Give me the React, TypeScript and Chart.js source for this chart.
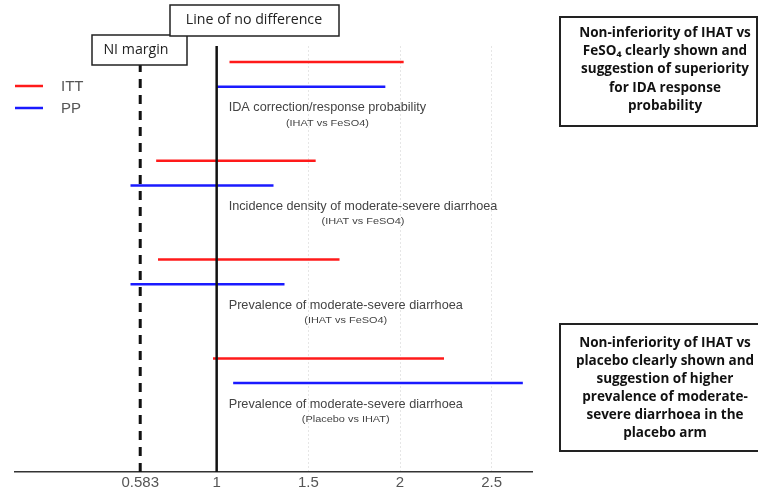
import React, { useEffect, useRef } from "react";
import { Chart, registerables } from "chart.js";

Chart.register(...registerables);

// ---- data ----
const outcomes = [
  "IDA correction/response probability",
  "Incidence density of moderate-severe diarrhoea",
  "Prevalence of moderate-severe diarrhoea",
  "Prevalence of moderate-severe diarrhoea",
];
const comparisons = ["(IHAT vs FeSO4)", "(IHAT vs FeSO4)", "(IHAT vs FeSO4)", "(Placebo vs IHAT)"];
const ittLower = [1.07, 0.67, 0.68, 0.98];
const ittUpper = [2.02, 1.54, 1.67, 2.24];
const ppLower = [1.0, 0.53, 0.53, 1.09];
const ppUpper = [1.92, 1.31, 1.37, 2.67];
const xTicks = [0.583, 1, 1.5, 2, 2.5];
const gridTicks = [1.5, 2, 2.5];
const niMargin = 0.583;
const noDifference = 1;
const seriesNames = ["ITT", "PP"];
const seriesColors = ["#ff1a1a", "#1a1aff"];
const niLabel = "NI margin";
const noDiffLabel = "Line of no difference";
const note1 = [
  "Non-inferiority of IHAT vs",
  "FeSO\u2084 clearly shown and",
  "suggestion of superiority",
  "for IDA response",
  "probability",
];
const note2 = [
  "Non-inferiority of IHAT vs",
  "placebo clearly shown and",
  "suggestion of higher",
  "prevalence of moderate-",
  "severe diarrhoea in the",
  "placebo arm",
];

const W = 758;
const H = 490;

function drawBox(ctx: CanvasRenderingContext2D, x: number, y: number, w: number, h: number, lw: number) {
  ctx.save();
  ctx.fillStyle = "#ffffff";
  ctx.fillRect(x, y, w, h);
  ctx.strokeStyle = "#222";
  ctx.lineWidth = lw;
  ctx.strokeRect(x, y, w, h);
  ctx.restore();
}

const overlayPlugin = {
  id: "overlay",
  afterDatasetsDraw(chart: any) {
    const ctx: CanvasRenderingContext2D = chart.ctx;
    const xs = chart.scales.x;
    const ys = chart.scales.y;
    const top = chart.chartArea.top;
    const bottom = chart.chartArea.bottom;
    ctx.save();
    // NI margin dashed
    ctx.strokeStyle = "#111";
    ctx.lineWidth = 3;
    ctx.setLineDash([9, 7]);
    const xn = xs.getPixelForValue(niMargin);
    ctx.beginPath();
    ctx.moveTo(xn, bottom);
    ctx.lineTo(xn, top);
    ctx.stroke();
    // line of no difference
    ctx.setLineDash([]);
    ctx.lineWidth = 2.5;
    const x1 = xs.getPixelForValue(noDifference);
    ctx.beginPath();
    ctx.moveTo(x1, top);
    ctx.lineTo(x1, bottom);
    ctx.stroke();

    // outcome labels
    const lx = x1 + 12;
    outcomes.forEach((t, i) => {
      const yMain = ys.getPixelForValue(4 * i + 1.86);
      const ySub = ys.getPixelForValue(4 * i + 2.47);
      ctx.fillStyle = "#444";
      ctx.font = "12.7px 'Liberation Sans', Arial, sans-serif";
      ctx.textBaseline = "middle";
      ctx.textAlign = "left";
      ctx.fillText(t, lx, yMain);
      const w = ctx.measureText(t).width;
      ctx.font = "9.5px 'Liberation Sans', Arial, sans-serif";
      ctx.textAlign = "center";
      ctx.save();
      ctx.translate(lx + w / 2, ySub);
      ctx.scale(1.15, 1);
      ctx.fillText(comparisons[i], 0, 0);
      ctx.restore();
    });

    // legend
    ctx.textAlign = "left";
    ctx.textBaseline = "middle";
    seriesNames.forEach((n, i) => {
      const y = 86 + i * 22;
      ctx.strokeStyle = seriesColors[i];
      ctx.lineWidth = 2.5;
      ctx.beginPath();
      ctx.moveTo(15, y);
      ctx.lineTo(43, y);
      ctx.stroke();
      ctx.fillStyle = "#555";
      ctx.font = "15px 'Liberation Sans', Arial, sans-serif";
      ctx.fillText(n, 61, y + 1);
    });

    // boxes
    drawBox(ctx, 92, 35, 95, 30, 1.5);
    ctx.fillStyle = "#222";
    ctx.font = "14.2px 'Open Sans', sans-serif";
    ctx.textAlign = "center";
    ctx.fillText(niLabel, 136, 50);
    drawBox(ctx, 170, 5, 169, 31, 1.5);
    ctx.fillStyle = "#222";
    ctx.fillText(noDiffLabel, 254, 20);

    drawBox(ctx, 560, 17, 197, 109, 2);
    ctx.fillStyle = "#111";
    ctx.font = "bold 13.5px 'Open Sans', sans-serif";
    note1.forEach((t, i) => ctx.fillText(t, 665, 33 + i * 18.3));
    drawBox(ctx, 560, 324, 205, 127, 2);
    ctx.fillStyle = "#111";
    note2.forEach((t, i) => ctx.fillText(t, 665, 343 + i * 18));
    ctx.restore();
  },
};

export default function App() {
  const ref = useRef<HTMLCanvasElement | null>(null);
  useEffect(() => {
    if (!ref.current) return;
    const datasets: any[] = [];
    outcomes.forEach((_, i) => {
      datasets.push({
        label: seriesNames[0],
        data: [
          { x: ittLower[i], y: 4 * i },
          { x: ittUpper[i], y: 4 * i },
        ],
        borderColor: seriesColors[0],
        borderWidth: 2.5,
        showLine: true,
        pointRadius: 0,
      });
      datasets.push({
        label: seriesNames[1],
        data: [
          { x: ppLower[i], y: 4 * i + 1 },
          { x: ppUpper[i], y: 4 * i + 1 },
        ],
        borderColor: seriesColors[1],
        borderWidth: 2.5,
        showLine: true,
        pointRadius: 0,
      });
    });
    const chart = new Chart(ref.current, {
      type: "scatter",
      data: { datasets },
      options: {
        responsive: false,
        animation: false,
        devicePixelRatio: 1,
        layout: { padding: { left: 15, right: W - 532, top: 46, bottom: 0 } },
        plugins: { legend: { display: false }, tooltip: { enabled: false } },
        scales: {
          x: {
            type: "linear",
            min: -0.1,
            max: 2.72,
            afterBuildTicks: (scale: any) => {
              scale.ticks = xTicks.map((v) => ({ value: v }));
            },
            afterFit: (scale: any) => {
              scale.height = 18;
            },
            ticks: {
              autoSkip: false,
              maxRotation: 0,
              padding: 2,
              color: "#555",
              font: { family: "'Liberation Sans', Arial, sans-serif", size: 15 },
              callback: (v: any) => String(v),
            },
            grid: {
              drawTicks: false,
              lineWidth: 1,
              color: (c: any) =>
                c.tick && gridTicks.includes(c.tick.value) ? "#e6e6e6" : "rgba(0,0,0,0)",
            },
            border: { display: true, color: "#333", width: 1.5, dash: [2, 2] },
          },
          y: {
            type: "linear",
            display: false,
            reverse: true,
            min: -0.65,
            max: 16.6,
          },
        },
      },
      plugins: [overlayPlugin],
    });
    return () => chart.destroy();
  }, []);
  return (
    <div style={{ position: "absolute", left: 0, top: 0, width: W, height: H, background: "#fff" }}>
      <canvas ref={ref} width={W} height={H} />
    </div>
  );
}
